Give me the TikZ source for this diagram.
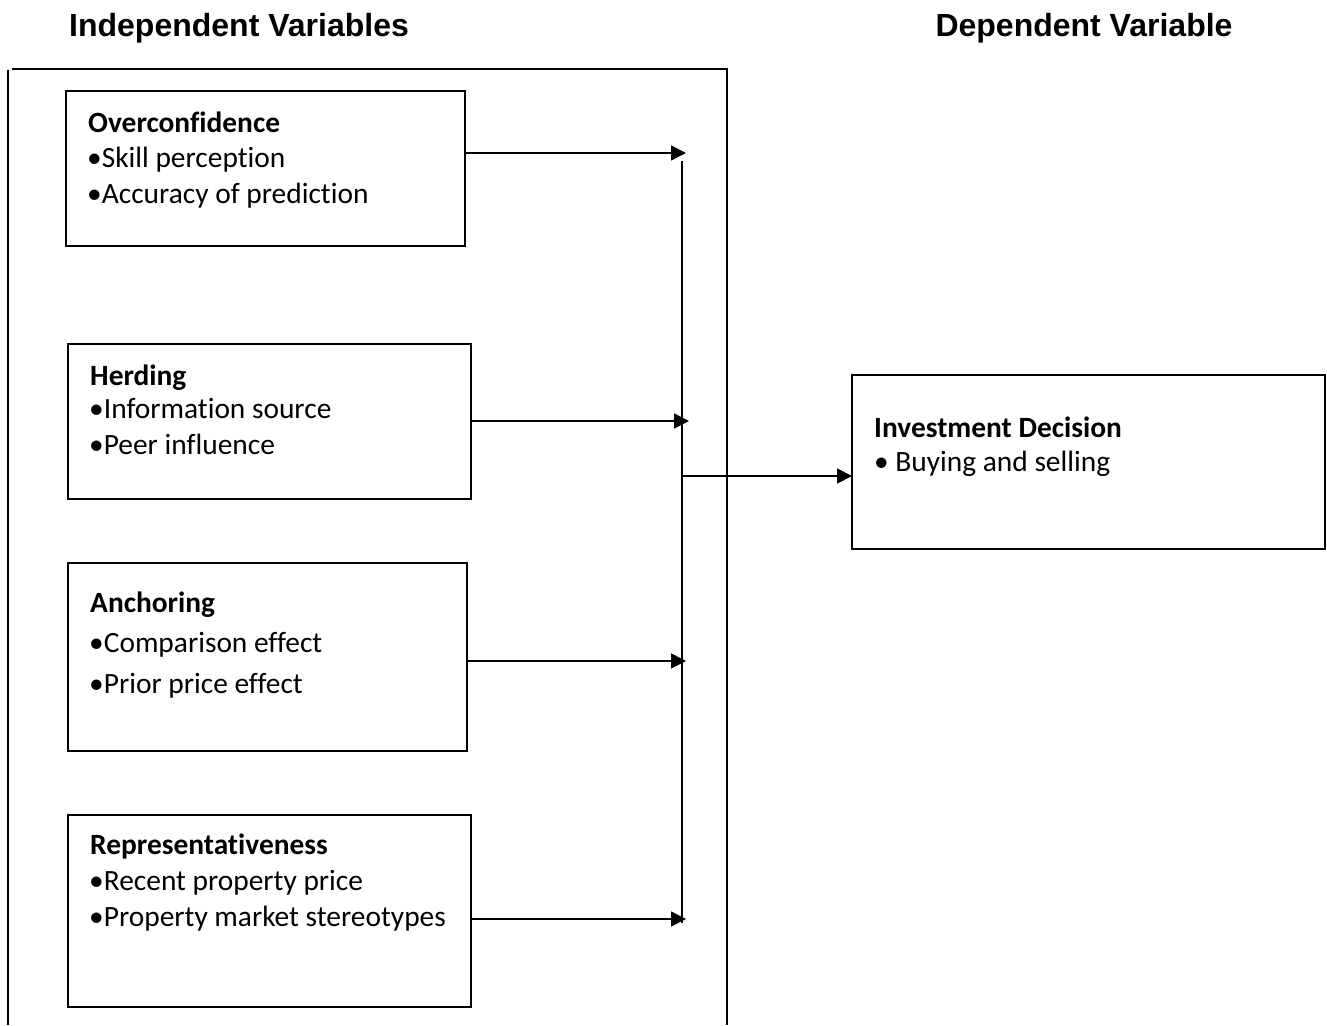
\documentclass[tikz,border=0pt]{standalone}
\usepackage{fontspec}
\setmainfont{Carlito}[RawFeature={-liga;-clig;-dlig}]
\newfontfamily\hdrfont{Liberation Sans}
\usetikzlibrary{arrows.meta}
\begin{document}
\begin{tikzpicture}[x=1pt,y=-1pt,
  box/.style={draw,line width=2.4pt,rectangle,anchor=north west,inner sep=0pt,outer sep=0pt},
  txt/.style={anchor=base west,inner sep=0pt,font=\fontsize{29.4}{34}\selectfont},
  btxt/.style={txt,font=\fontsize{29.4}{34}\selectfont\bfseries},
  hdr/.style={anchor=base,inner sep=0pt,font=\fontsize{32}{38}\selectfont\hdrfont\bfseries},
  frame/.style={line width=2pt},
  arr/.style={line width=1.6pt,-{Triangle[length=15pt,width=15pt]}},
  bus/.style={line width=1.8pt}]
\useasboundingbox (0,0) rectangle (1327,1025);
% headers
\node[hdr] (h1) at (239,37) {Independent Variables};
\node[hdr] (h2) at (1084,37) {Dependent Variable};
% outer frame
\coordinate (fa) at (12,69);
\coordinate (fb) at (727,69);
\coordinate (fc) at (727,1025);
\coordinate (fd) at (8,70);
\coordinate (fe) at (8,1025);
\draw[frame] (fa) -- (fb) -- (fc);
\draw[frame] (fd) -- (fe);
% boxes
\node[box,minimum width=399pt,minimum height=155pt] (b1) at (66,91) {};
\node[box,minimum width=403pt,minimum height=155pt] (b2) at (68,344) {};
\node[box,minimum width=399pt,minimum height=188pt] (b3) at (68,563) {};
\node[box,minimum width=403pt,minimum height=192pt] (b4) at (68,815) {};
\node[box,minimum width=473pt,minimum height=174pt] (out) at (852,375) {};
% texts
\node[btxt] (t11) at (88,132) {Overconfidence};
\node[txt] (t12) at (87,167) {•Skill perception};
\node[txt] (t13) at (87,203) {•Accuracy of prediction};
\node[btxt] (t21) at (90,385) {Herding};
\node[txt] (t22) at (89,418) {•Information source};
\node[txt] (t23) at (89,454) {•Peer influence};
\node[btxt] (t31) at (90,612) {Anchoring};
\node[txt] (t32) at (89,652) {•Comparison effect};
\node[txt] (t33) at (89,693) {•Prior price effect};
\node[btxt] (t41) at (90,854) {Representativeness};
\node[txt] (t42) at (89,890) {•Recent property price};
\node[txt] (t43) at (89,926) {•Property market stereotypes};
\node[btxt] (t51) at (874,437) {Investment Decision};
\node[txt] (t52) at (874,471) {• Buying and selling};
% bus
\coordinate (bt) at (682,161);
\coordinate (bb) at (682,923);
\draw[bus] (bt) -- (bb);
\coordinate (j1) at (686,153);
\coordinate (j2) at (689,421);
\coordinate (j3) at (686,661);
\coordinate (j4) at (686,919);
\coordinate (j5) at (683,476);
\draw[arr] (b1.east |- j1) -- (j1);
\draw[arr] (b2.east |- j2) -- (j2);
\draw[arr] (b3.east |- j3) -- (j3);
\draw[arr] (b4.east |- j4) -- (j4);
\draw[arr] (j5) -- (j5 -| out.west);
\end{tikzpicture}
\end{document}
